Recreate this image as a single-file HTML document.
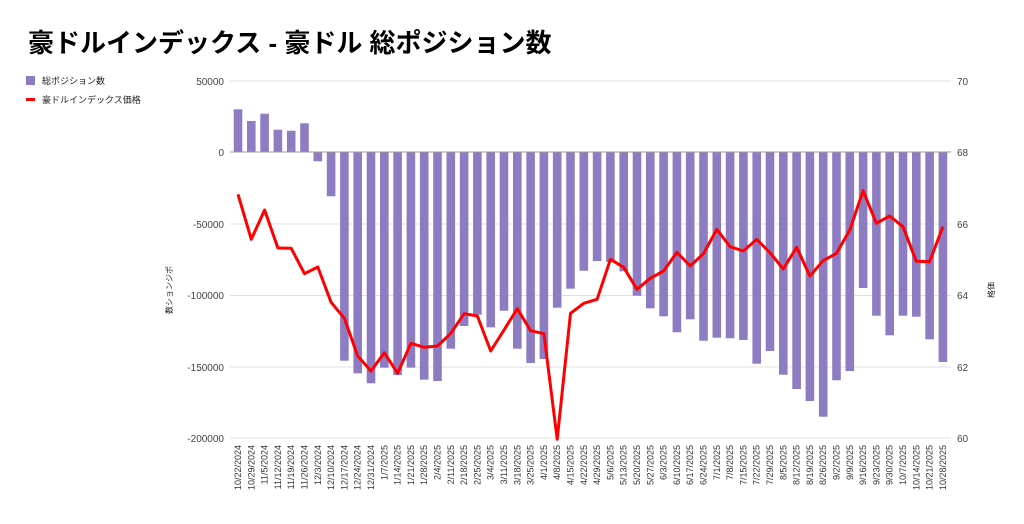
<!DOCTYPE html>
<html><head><meta charset="utf-8"><style>
body{margin:0;background:#fff;width:1024px;height:519px;overflow:hidden;font-family:"Liberation Sans","Noto Sans CJK JP",sans-serif}
</style></head><body>
<svg id="s" width="1024" height="519" xmlns="http://www.w3.org/2000/svg" font-family="Liberation Sans, Noto Sans CJK JP, sans-serif">
<text x="28" y="52" font-size="26" font-weight="bold" fill="#000">豪ドルインデックス - 豪ドル 総ポジション数</text>
<rect x="26" y="76" width="9" height="9" fill="#8e7cc3"/>
<text x="42" y="84" font-size="9" fill="#222">総ポジション数</text>
<rect x="26" y="98" width="9" height="3" fill="#ff0000"/>
<text x="42" y="103" font-size="9" fill="#222">豪ドルインデックス価格</text>
<g stroke="#e0e0e0" stroke-width="1">
<line x1="230" x2="951" y1="81" y2="81"/><line x1="230" x2="951" y1="224" y2="224"/>
<line x1="230" x2="951" y1="295.5" y2="295.5"/><line x1="230" x2="951" y1="367" y2="367"/><line x1="230" x2="951" y1="438" y2="438"/>
</g>
<g font-size="10" fill="#444" text-anchor="end">
<text x="224" y="85">50000</text><text x="224" y="156">0</text><text x="224" y="228">-50000</text>
<text x="224" y="299">-100000</text><text x="224" y="371">-150000</text><text x="224" y="442">-200000</text>
</g>
<g font-size="10" fill="#444">
<text x="957" y="85">70</text><text x="957" y="156">68</text><text x="957" y="228">66</text>
<text x="957" y="299">64</text><text x="957" y="371">62</text><text x="957" y="442">60</text>
</g>
<text transform="translate(172,290) rotate(-90)" font-size="8" fill="#222" text-anchor="middle">数ションジポ</text>
<text transform="translate(994,290) rotate(-90)" font-size="8" fill="#222" text-anchor="middle">格価</text>
<g id="bars" fill="#8e7cc3"></g>
<line x1="230" x2="951" y1="152" y2="152" stroke="#999" stroke-width="1"/>
<polyline id="ln" fill="none" stroke="#ff0000" stroke-width="3" stroke-linejoin="round"/>
<g id="xl" font-size="9" fill="#333" text-anchor="end"></g>
</svg>
<script>
var labels=["10/22/2024","10/29/2024","11/5/2024","11/12/2024","11/19/2024","11/26/2024","12/3/2024","12/10/2024","12/17/2024","12/24/2024","12/31/2024","1/7/2025","1/14/2025","1/21/2025","1/28/2025","2/4/2025","2/11/2025","2/18/2025","2/25/2025","3/4/2025","3/11/2025","3/18/2025","3/25/2025","4/1/2025","4/8/2025","4/15/2025","4/22/2025","4/29/2025","5/6/2025","5/13/2025","5/20/2025","5/27/2025","6/3/2025","6/10/2025","6/17/2025","6/24/2025","7/1/2025","7/8/2025","7/15/2025","7/22/2025","7/29/2025","8/5/2025","8/12/2025","8/19/2025","8/26/2025","9/2/2025","9/9/2025","9/16/2025","9/23/2025","9/30/2025","10/7/2025","10/14/2025","10/21/2025","10/28/2025"];
var b=[109.3,121,113.7,129.7,130.7,123.3,161.3,196.3,360.7,373.3,383.3,367.7,375,367.7,379.7,381,348.7,326,314.7,327.3,310.7,348.7,363,359,307.7,288.7,270.7,261,262,271.3,295.7,308.3,316.3,332.3,319.3,340.7,337.7,338.3,340,363.7,351,374.7,389,401,416.7,380.3,371,288,315.7,335.3,315.7,316.7,339.3,362];
var l=[194.3,239.3,210,248,248.3,273.7,267,302.3,318.3,356,371,352.7,373.3,343.3,347.3,346,333.3,313.7,316,351,330,308.7,330.7,333.7,439.3,313.3,303.3,299.3,259.3,267.3,289.3,278.3,271,252.3,266,253.7,229.3,246.7,251,239.3,252.7,269,247.3,276,260.7,253.3,230,190.7,223.3,216,226.7,261.3,261.7,226.7];
var ns="http://www.w3.org/2000/svg",bg=document.getElementById("bars"),xl=document.getElementById("xl"),pts=[];
for(var i=0;i<54;i++){var cx=238+13.3*i;var y=b[i];var r=document.createElementNS(ns,"rect");
r.setAttribute("x",cx-4.3);r.setAttribute("width",8.6);r.setAttribute("y",Math.min(y,152));r.setAttribute("height",Math.abs(y-152));bg.appendChild(r);
pts.push(cx.toFixed(1)+","+l[i]);
var t=document.createElementNS(ns,"text");t.setAttribute("transform","translate("+(cx+3)+",445) rotate(-90)");t.textContent=labels[i];xl.appendChild(t);}
document.getElementById("ln").setAttribute("points",pts.join(" "));
</script>
</body></html>
